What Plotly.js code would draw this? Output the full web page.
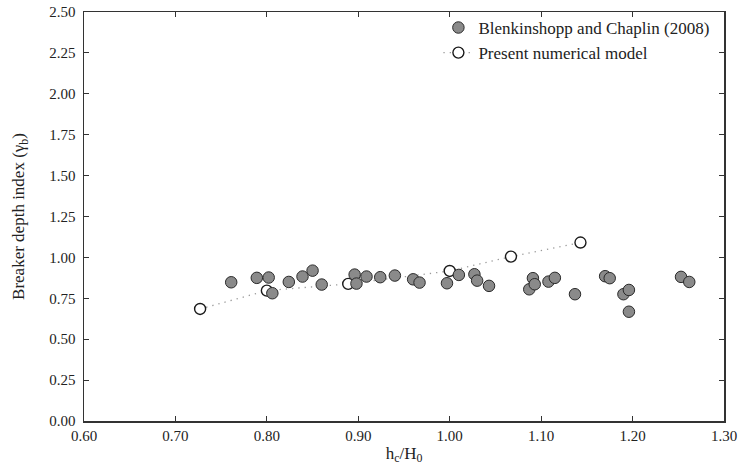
<!DOCTYPE html>
<html>
<head>
<meta charset="utf-8">
<script src="https://cdn.plot.ly/plotly-3.0.1.min.js"></script>
<style>html,body{margin:0;padding:0;background:#fff;}#chart{width:739px;height:472px;}</style>
</head>
<body>
<div id="chart"></div>
<script>
// Blenkinshopp and Chaplin (2008) experimental data
var expX = [0.761, 0.789, 0.802, 0.806, 0.824, 0.839, 0.850, 0.860, 0.896, 0.898,
            0.909, 0.924, 0.940, 0.960, 0.967, 0.997, 1.010, 1.027, 1.030, 1.043,
            1.087, 1.091, 1.093, 1.108, 1.115, 1.137, 1.170, 1.175, 1.190, 1.196,
            1.196, 1.253, 1.262];
var expY = [0.848, 0.875, 0.877, 0.781, 0.850, 0.883, 0.919, 0.834, 0.895, 0.840,
            0.883, 0.879, 0.889, 0.866, 0.846, 0.842, 0.893, 0.897, 0.858, 0.826,
            0.805, 0.873, 0.836, 0.852, 0.875, 0.775, 0.885, 0.873, 0.775, 0.801,
            0.668, 0.881, 0.850];
// Present numerical model
var modelX = [0.727, 0.800, 0.889, 1.000, 1.067, 1.143];
var modelY = [0.685, 0.797, 0.838, 0.917, 1.005, 1.091];

var xTicks = [0.60, 0.70, 0.80, 0.90, 1.00, 1.10, 1.20, 1.30];
var yTicks = [0.00, 0.25, 0.50, 0.75, 1.00, 1.25, 1.50, 1.75, 2.00, 2.25, 2.50];

var serif = 'Liberation Serif, Times New Roman, serif';

var traces = [
  {
    x: modelX, y: modelY, type: 'scatter', mode: 'lines+markers',
    name: 'Present numerical model',
    line: {color: '#9a9a9a', width: 1.3, dash: '1.3px,5px'},
    marker: {symbol: 'circle', size: 11, color: '#ffffff', line: {color: '#1a1a1a', width: 1.4}}
  },
  {
    x: expX, y: expY, type: 'scatter', mode: 'markers',
    name: 'Blenkinshopp and Chaplin (2008)',
    marker: {symbol: 'circle', size: 11.5, color: '#8a8a8a', line: {color: '#2a2a2a', width: 1}}
  }
];

var axisCommon = {
  showgrid: false, zeroline: false,
  showline: true, linecolor: '#333333', linewidth: 1.5, mirror: 'ticks',
  ticks: 'inside', ticklen: 5, tickwidth: 1, tickcolor: '#333333',
  tickfont: {family: serif, size: 15, color: '#222222'},
  tickformat: '.2f'
};

var layout = {
  width: 739, height: 472,
  margin: {l: 84, r: 15, t: 12, b: 51, autoexpand: false},
  paper_bgcolor: '#ffffff', plot_bgcolor: '#ffffff',
  font: {family: serif, color: '#222222'},
  showlegend: true,
  legend: {
    x: 0.985, y: 1.005, xanchor: 'right', yanchor: 'top',
    traceorder: 'reversed', bgcolor: 'rgba(0,0,0,0)', borderwidth: 0,
    font: {family: serif, size: 17, color: '#222222'},
    itemwidth: 30, tracegroupgap: 0
  },
  xaxis: Object.assign({}, axisCommon, {
    range: [0.6, 1.3], tickvals: xTicks, automargin: false,
    title: {text: 'h<sub>c</sub>/H<sub>0</sub>', font: {family: serif, size: 17, color: '#222222'}, standoff: 4}
  }),
  yaxis: Object.assign({}, axisCommon, {
    range: [0, 2.5], tickvals: yTicks, ticklabelstandoff: 4, automargin: false,
    title: {text: 'Breaker depth index (γ<sub>b</sub>)', font: {family: serif, size: 17, color: '#222222'}, standoff: 20}
  })
};

Plotly.newPlot('chart', traces, layout, {displayModeBar: false, staticPlot: true});
</script>
</body>
</html>
